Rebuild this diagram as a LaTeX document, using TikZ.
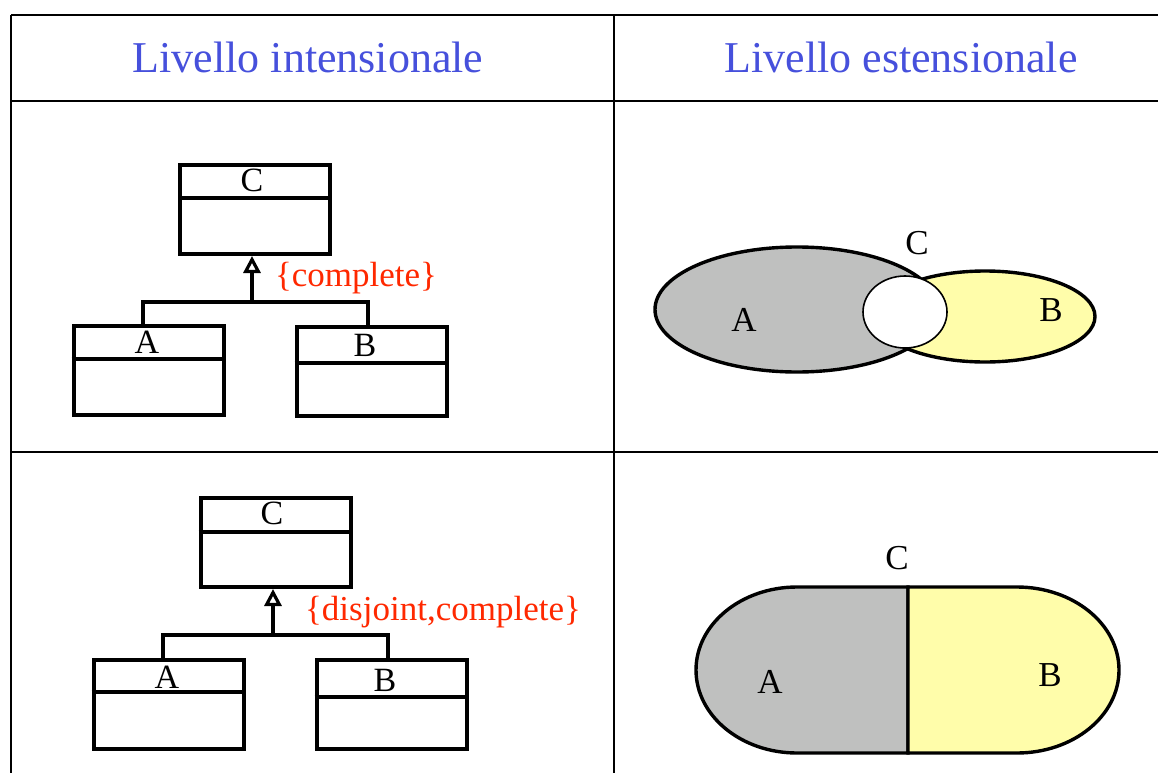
\documentclass[tikz,border=0pt]{standalone}
\usepackage{fontspec}
\setmainfont{Liberation Serif}
\usetikzlibrary{arrows.meta, positioning}
\definecolor{headblue}{RGB}{70,80,220}
\definecolor{constrred}{RGB}{255,40,0}
\definecolor{setgray}{RGB}{191,192,191}
\definecolor{setyellow}{RGB}{255,253,170}

\begin{document}
\begin{tikzpicture}[
    x=1pt,
    y=-1pt,
    >=Latex,
    grid/.style={line width=2pt},
    header/.style={text=headblue, font=\fontsize{44}{50}\selectfont, inner sep=0pt},
    classbox/.style={rectangle, draw, line width=4pt, minimum width=150pt, minimum height=89pt, inner sep=0pt},
    classname/.style={font=\fontsize{34}{38}\selectfont, inner sep=0pt},
    constraint/.style={text=constrred, font=\fontsize{35}{40}\selectfont, inner sep=0pt},
    gen/.style={line width=4pt},
    genarrow/.style={line width=4pt, -{Triangle[open, length=17pt, width=17pt, line width=3.2pt]}},
    setlabel/.style={font=\fontsize{35}{40}\selectfont, inner sep=0pt},
    setline/.style={line width=3.4pt}
]
\useasboundingbox (0,0) rectangle (1158,773);

\draw[grid] (11,15) -- (1158,15);
\draw[grid] (11,101) -- (1158,101);
\draw[grid] (11,452) -- (1158,452);
\draw[grid] (11,15) -- (11,773);
\draw[grid] (614,15) -- (614,773);

\node[header] (intens) at (308,57) {Livello intensionale};
\node[header] (estens) at (901,57) {Livello estensionale};

\node[classbox] (c1) at (255,209.5) {};
\node[classbox] (a1) at (148.5,370) {};
\node[classbox] (b1) at (371.5,371) {};
\draw[gen] (c1.west |- 0,198) -- (c1.east |- 0,198);
\draw[gen] (a1.west |- 0,359) -- (a1.east |- 0,359);
\draw[gen] (b1.west |- 0,363) -- (b1.east |- 0,363);
\node[classname] (c1name) at (252,180) {C};
\node[classname] (a1name) at (147,342) {A};
\node[classname] (b1name) at (365,345) {B};
\coordinate (j1) at (252,302);
\draw[gen] ([xshift=-6pt]a1.north) |- (j1) -| ([xshift=-4pt]b1.north);
\draw[genarrow] (j1) -- (j1 |- c1.south);
\node[constraint] (compl) at (356,278) {\{complete\}};

\node[classbox] (c2) at (275.5,542.5) {};
\node[classbox] (a2) at (168.5,704) {};
\node[classbox] (b2) at (391.5,704.5) {};
\draw[gen] (c2.west |- 0,532) -- (c2.east |- 0,532);
\draw[gen] (a2.west |- 0,692) -- (a2.east |- 0,692);
\draw[gen] (b2.west |- 0,697) -- (b2.east |- 0,697);
\node[classname] (c2name) at (272,513) {C};
\node[classname] (a2name) at (167,677) {A};
\node[classname] (b2name) at (385,680) {B};
\coordinate (j2) at (273,635);
\draw[gen] ([xshift=-6pt]a2.north) |- (j2) -| ([xshift=-4pt]b2.north);
\draw[genarrow] (j2) -- (j2 |- c2.south);
\node[constraint] (disjcompl) at (443,612) {\{disjoint,complete\}};

\filldraw[setline, fill=setgray] (797,309.5) ellipse [x radius=142, y radius=62.5];
\filldraw[setline, fill=setyellow] (985,316.5) ellipse [x radius=110, y radius=45.5];
\filldraw[line width=1.6pt, fill=white] (905,312) ellipse [x radius=42, y radius=36];
\node[setlabel] (vc1) at (917,243) {C};
\node[setlabel] (va1) at (744,320) {A};
\node[setlabel] (vb1) at (1051,310) {B};

\filldraw[setline, fill=setgray] (908,587) -- (797,587)
    arc[start angle=270, end angle=90, x radius=101, y radius=83] -- (908,753) -- cycle;
\filldraw[setline, fill=setyellow] (908,587) -- (1017,587)
    arc[start angle=-90, end angle=90, x radius=102, y radius=83] -- (908,753) -- cycle;
\node[setlabel] (vc2) at (897,558) {C};
\node[setlabel] (va2) at (770,682) {A};
\node[setlabel] (vb2) at (1050,675) {B};
\end{tikzpicture}
\end{document}
